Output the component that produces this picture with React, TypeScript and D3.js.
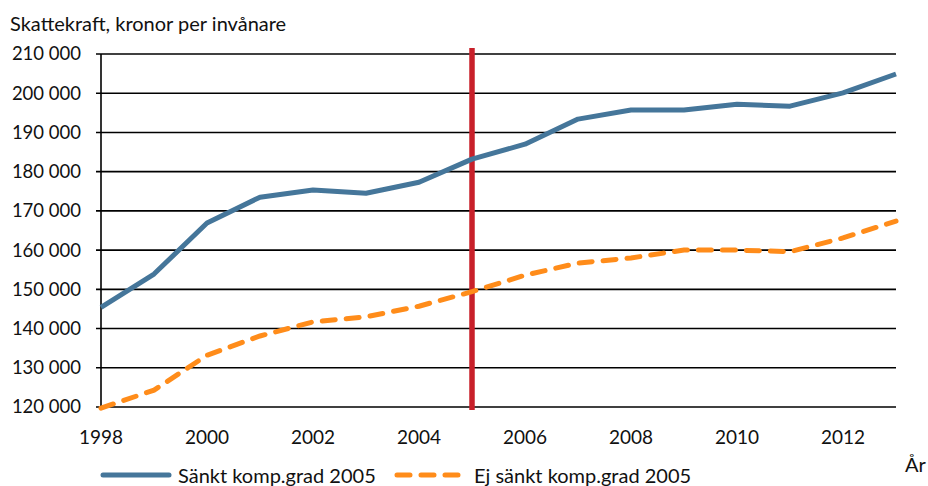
import React, { useEffect, useRef } from 'react';
import * as d3 from 'd3';

const years = [1998, 1999, 2000, 2001, 2002, 2003, 2004, 2005, 2006, 2007, 2008, 2009, 2010, 2011, 2012, 2013];
const sanktValues = [145400, 153900, 166900, 173500, 175300, 174500, 177300, 183200, 187000, 193400, 195700, 195700, 197200, 196700, 200100, 204900];
const ejSanktValues = [119700, 124300, 133200, 138100, 141700, 143000, 145700, 149400, 153600, 156700, 158000, 160000, 160000, 159600, 163100, 167400];
const yTicks = [120000, 130000, 140000, 150000, 160000, 170000, 180000, 190000, 200000, 210000];
const xTicks = [1998, 2000, 2002, 2004, 2006, 2008, 2010, 2012];
const markerYear = 2005;
const seriesNames = ['Sänkt komp.grad 2005', 'Ej sänkt komp.grad 2005'];

const FONT = 'Lato, "Open Sans", sans-serif';
const FS = 20;

const App: React.FC = () => {
  const chartRef = useRef<SVGSVGElement>(null);

  useEffect(() => {
    const svg = d3.select(chartRef.current);
    svg.selectAll('*').remove();

    const margin = { top: 54, right: 32, bottom: 79, left: 101 };
    const width = 928 - margin.left - margin.right;
    const height = 486 - margin.top - margin.bottom;

    const x = d3.scaleLinear().domain([1998, 2013]).range([0, width]);
    const y = d3.scaleLinear().domain([120000, 210000]).range([height, 0]);

    const g = svg.append('g')
      .attr('transform', `translate(${margin.left},${margin.top})`);

    const fmt = (v: number) => d3.format(',')(v).replace(/,/g, ' ');

    // gridlines + tick marks
    g.selectAll('.grid')
      .data(yTicks)
      .enter().append('line')
      .attr('class', 'grid')
      .attr('x1', -5)
      .attr('x2', width)
      .attr('y1', d => y(d))
      .attr('y2', d => y(d))
      .attr('stroke', '#000')
      .attr('stroke-width', 1.6);

    g.selectAll('.ylabel')
      .data(yTicks)
      .enter().append('text')
      .attr('class', 'ylabel')
      .attr('x', -20)
      .attr('y', d => y(d))
      .attr('dy', '0.35em')
      .attr('text-anchor', 'end')
      .attr('font-family', FONT)
      .attr('font-size', 18.5)
      .attr('fill', '#111')
      .text(d => fmt(d));

    g.append('line')
      .attr('x1', 0).attr('x2', 0)
      .attr('y1', 0).attr('y2', height)
      .attr('stroke', '#000')
      .attr('stroke-width', 1.6);

    g.selectAll('.xlabel')
      .data(xTicks)
      .enter().append('text')
      .attr('class', 'xlabel')
      .attr('x', d => x(d))
      .attr('y', height + 37)
      .attr('text-anchor', 'middle')
      .attr('font-family', FONT)
      .attr('font-size', 19)
      .attr('fill', '#111')
      .text(d => String(d));

    // vertical marker
    g.append('line')
      .attr('x1', x(markerYear)).attr('x2', x(markerYear))
      .attr('y1', -6).attr('y2', height + 3)
      .attr('stroke', '#C8202A')
      .attr('stroke-width', 5.5);

    const line = d3.line<number>()
      .x((_, i) => x(years[i]))
      .y(d => y(d));

    g.append('path')
      .datum(ejSanktValues)
      .attr('d', line)
      .attr('fill', 'none')
      .attr('stroke', '#FF8C1A')
      .attr('stroke-width', 5)
      .attr('stroke-linecap', 'round')
      .attr('stroke-dasharray', '13 11');

    g.append('path')
      .datum(sanktValues)
      .attr('d', line)
      .attr('fill', 'none')
      .attr('stroke', '#45769A')
      .attr('stroke-width', 5)
      .attr('stroke-linejoin', 'round');

    // titles
    svg.append('text')
      .attr('x', 10)
      .attr('y', 31)
      .attr('font-family', FONT)
      .attr('font-size', FS)
      .attr('fill', '#111')
      .text('Skattekraft, kronor per invånare');

    svg.append('text')
      .attr('x', 905)
      .attr('y', 472)
      .attr('font-family', FONT)
      .attr('font-size', FS)
      .attr('fill', '#111')
      .text('År');

    // legend
    const legend = svg.append('g');
    legend.append('line')
      .attr('x1', 103).attr('x2', 169)
      .attr('y1', 475).attr('y2', 475)
      .attr('stroke', '#45769A')
      .attr('stroke-width', 5)
      .attr('stroke-linecap', 'round');
    legend.append('text')
      .attr('x', 178).attr('y', 483)
      .attr('font-family', FONT)
      .attr('font-size', FS)
      .attr('fill', '#111')
      .text(seriesNames[0]);
    legend.append('line')
      .attr('x1', 397).attr('x2', 464)
      .attr('y1', 475).attr('y2', 475)
      .attr('stroke', '#FF8C1A')
      .attr('stroke-width', 5)
      .attr('stroke-linecap', 'round')
      .attr('stroke-dasharray', '13 11');
    legend.append('text')
      .attr('x', 474).attr('y', 483)
      .attr('font-family', FONT)
      .attr('font-size', FS)
      .attr('fill', '#111')
      .text(seriesNames[1]);
  }, []);

  return (
    <svg ref={chartRef} width="928" height="486"
      style={{ position: 'absolute', left: 0, top: 0, background: '#fff' }}></svg>
  );
};

export default App;
